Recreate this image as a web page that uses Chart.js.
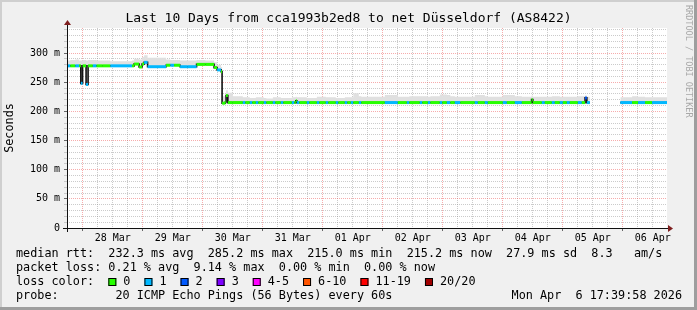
<!DOCTYPE html>
<html>
<head>
<meta charset="utf-8">
<script src="https://cdn.jsdelivr.net/npm/chart.js@4.4.1/dist/chart.umd.min.js"></script>
<style>
html, body { margin: 0; padding: 0; background: #f0f0f0; }
</style>
</head>
<body>
<canvas id="smokeChart" width="697" height="310"></canvas>
<script>
// hours since 28 Mar 00:00, median rtt (ms), lost pings of 20, top of the smoke (ms)
var hours = [
  -6.33, -5.0, -3.0, -1.5, -0.8, -0.1, 1.3, 2.1, 4.0, 5.5, 8.0, 11.0,
  19.7, 20.5, 22.5, 23.7, 24.5, 25.9, 33.3, 35.0, 36.5, 38.9, 42.0, 45.5,
  49.0, 52.5, 53.7, 55.3, 55.7, 57.0, 57.3, 58.0,
  60.0, 64.0, 65.0, 66.8, 67.8, 69.2, 70.2, 72.4, 73.4, 76.0, 77.0, 79.2,
  80.2, 83.6, 84.6, 85.2, 85.6, 86.6, 89.6, 90.6, 93.6, 94.6, 97.2, 98.2,
  101.2, 102.2, 104.8, 105.8, 107.2, 108.2, 110.4, 111.4, 120.8, 126.0, 129.6, 130.6,
  134.8, 135.8, 138.0, 139.0, 142.8, 143.8, 145.6, 147.0, 148.8, 151.0, 156.8, 158.0,
  160.8, 162.0, 168.0, 169.6, 172.8, 175.6, 179.5, 180.0, 183.6, 184.8, 187.6, 188.8,
  190.8, 192.0, 193.6, 194.8, 198.0, 199.6, 200.9, 201.6, 202.8, 202.9,
  215.0, 219.7, 222.1, 224.9, 227.7, 233.67
];
var medianRtt = [
  278, 278, 278, 278, 248, 278, 246, 278, 278, 278, 278, 278,
  278, 281, 276, 281, 284, 276.5, 279, 279, 279, 276.5, 276.5, 280.5,
  280.5, 275, 271, 268, 214, 216, 227, 215,
  215, 215, 215, 215, 215, 215, 215, 215, 215, 215, 215, 215,
  215, 215, 215, 218, 215, 215, 215, 215, 215, 215, 215, 215,
  215, 215, 215, 215, 215, 215, 215, 215, 215, 215, 215, 215,
  215, 215, 215, 215, 215, 215, 215, 215, 215, 215, 215, 215,
  215, 215, 215, 215, 215, 215, 220, 215, 215, 215, 215, 215,
  215, 215, 215, 215, 215, 215, 223, 215, 215, null,
  215, 215, 215, 215, 215, 215
];
var lossCount = [
  1, 0, 1, 0, 1, 0, 1, 0, 1, 0, 0, 1,
  0, 0, 0, 0, 1, 1, 0, 1, 0, 1, 1, 0,
  0, 0, 1, 0, 0, 0, 0, 0,
  0, 1, 0, 1, 0, 1, 0, 1, 0, 1, 0, 1,
  0, 1, 0, 0, 1, 0, 1, 0, 1, 0, 1, 0,
  1, 0, 1, 0, 1, 0, 1, 0, 1, 0, 1, 0,
  1, 0, 1, 0, 1, 0, 1, 0, 1, 0, 1, 0,
  1, 0, 1, 0, 1, 0, 0, 0, 1, 0, 1, 0,
  1, 0, 1, 0, 1, 0, 2, 1, 0, 0,
  1, 0, 1, 0, 1, 1
];
var smokeTop = [
  287, 288, 289, 287, 287, 288, 287, 288, 288, 287, 287, 286,
  287, 290, 289, 293, 296, 292, 289, 288, 288, 287, 287, 288,
  287, 284, 280, 276, 226, 228, 236, 232,
  226, 224, 224, 223, 223, 224, 224, 223, 222, 224, 224, 223,
  223, 224, 224, 225, 224, 224, 223, 223, 225, 225, 224, 224,
  223, 223, 224, 224, 224, 231, 226, 225, 228, 225, 225, 226,
  226, 226, 225, 226, 229, 229, 228, 226, 225, 225, 228, 228,
  226, 225, 228, 228, 226, 225, 227, 225, 225, 225, 226, 226,
  225, 225, 225, 225, 226, 226, 227, 225, 224, null,
  224, 226, 225, 224, 224, 224
];

var dayLabels = ['28 Mar', '29 Mar', '30 Mar', '31 Mar', '01 Apr', '02 Apr', '03 Apr', '04 Apr', '05 Apr', '06 Apr'];
var lossLabels = ['0', '1', '2', '3', '4-5', '6-10', '11-19', '20/20'];
var lossColors = ['#26ff00', '#00b8ff', '#0059ff', '#7e00ff', '#ff00ff', '#ff5500', '#ff0000', '#a10000'];

var rttLine = 'median rtt:  232.3 ms avg  285.2 ms max  215.0 ms min  215.2 ms now  27.9 ms sd  8.3   am/s';
var lossLine = 'packet loss: 0.21 % avg  9.14 % max  0.00 % min  0.00 % now';
var probeLine = 'probe:        20 ICMP Echo Pings (56 Bytes) every 60s';
var stampLine = 'Mon Apr  6 17:39:58 2026';
var titleText = 'Last 10 Days from cca1993b2ed8 to net Düsseldorf (AS8422)';

var MONO = '"DejaVu Sans Mono", "Liberation Mono", monospace';
Chart.defaults.font.family = MONO;
Chart.defaults.color = '#000';

var medianPts = hours.map(function (h, i) { return { x: h, y: medianRtt[i] }; });
var smokePts = hours.map(function (h, i) { return { x: h, y: smokeTop[i] }; });

// horizontal pieces of the median, each coloured by its loss
var colorPts = [];
for (var i = 0; i < hours.length - 1; i++) {
    if (medianRtt[i] === null || medianRtt[i + 1] === null) continue;
    colorPts.push({ x: hours[i], y: medianRtt[i], loss: lossCount[i] });
    colorPts.push({ x: hours[i + 1], y: medianRtt[i], loss: lossCount[i] });
    colorPts.push({ x: hours[i + 1], y: null, loss: 0 });
}

var rrdFrame = {
    id: 'rrdFrame',
    beforeDraw: function (chart) {
        var c = chart.ctx, a = chart.chartArea, w = chart.width, h = chart.height;
        c.save();
        c.fillStyle = '#f0f0f0';
        c.fillRect(0, 0, w, h);
        c.fillStyle = '#cfcfcf';
        c.fillRect(0, 0, w, 2);
        c.fillRect(0, 0, 2, h);
        c.fillStyle = '#9e9e9e';
        c.fillRect(0, h - 3, w, 3);
        c.fillRect(w - 3, 0, 3, h);
        c.fillStyle = '#ffffff';
        c.fillRect(a.left, a.top, a.right - a.left, a.bottom - a.top);
        c.restore();
    },
    afterDraw: function (chart) {
        var c = chart.ctx, a = chart.chartArea;
        c.save();
        // axes with arrows
        c.strokeStyle = '#101010';
        c.lineWidth = 1;
        c.beginPath();
        c.moveTo(a.left - 4, a.bottom + 0.5);
        c.lineTo(a.right + 2, a.bottom + 0.5);
        c.moveTo(a.left + 0.5, a.bottom + 4);
        c.lineTo(a.left + 0.5, a.top - 3);
        c.stroke();
        c.fillStyle = '#7f1f1f';
        c.beginPath();
        c.moveTo(a.right + 1, a.bottom - 3);
        c.lineTo(a.right + 6, a.bottom + 0.5);
        c.lineTo(a.right + 1, a.bottom + 4);
        c.fill();
        c.beginPath();
        c.moveTo(a.left - 3, a.top - 3);
        c.lineTo(a.left + 0.5, a.top - 8);
        c.lineTo(a.left + 4, a.top - 3);
        c.fill();

        // title
        c.fillStyle = '#000';
        c.font = '13px ' + MONO;
        c.textAlign = 'center';
        c.textBaseline = 'middle';
        c.fillText(titleText, chart.width / 2, 19);

        // legend block
        c.font = '11.8px ' + MONO;
        c.textAlign = 'left';
        c.fillText(rttLine, 16, 254);
        c.fillText(lossLine, 16, 268);
        c.fillText('loss color:', 16, 282);
        var x = 16 + c.measureText('loss color:  ').width;
        lossLabels.forEach(function (lbl, k) {
            c.fillStyle = lossColors[k];
            c.fillRect(x, 278, 8, 8);
            c.strokeStyle = '#000';
            c.strokeRect(x + 0.5, 278.5, 7, 7);
            c.fillStyle = '#000';
            c.fillText(lbl, x + 15, 282);
            x += 15 + c.measureText(lbl).width + 14;
        });
        c.fillText(probeLine, 16, 296);
        c.textAlign = 'right';
        c.fillText(stampLine, 682, 296);

        // credit down the right edge
        c.translate(688, 5);
        c.rotate(Math.PI / 2);
        c.font = '8.5px ' + MONO;
        c.fillStyle = '#a8a8a8';
        c.textAlign = 'left';
        c.fillText('RRDTOOL / TOBI OETIKER', 0, 0);
        c.restore();
    }
};

var ctx = document.getElementById('smokeChart').getContext('2d');
var smokeChart = new Chart(ctx, {
    type: 'line',
    data: {
        datasets: [{
            label: 'median',
            data: colorPts,
            borderWidth: 3,
            borderCapStyle: 'butt',
            borderColor: lossColors[0],
            pointRadius: 0,
            fill: false,
            spanGaps: false,
            segment: {
                borderColor: function (sc) { return lossColors[colorPts[sc.p0DataIndex].loss]; }
            }
        }, {
            label: 'median step',
            data: medianPts,
            stepped: true,
            borderWidth: 1.6,
            borderColor: '#111',
            pointRadius: 0,
            fill: false,
            spanGaps: false
        }, {
            label: 'smoke',
            data: smokePts,
            stepped: true,
            borderWidth: 0,
            borderColor: 'rgba(0,0,0,0)',
            backgroundColor: '#e0e0e0',
            pointRadius: 0,
            fill: 1,
            spanGaps: false
        }]
    },
    options: {
        responsive: false,
        animation: false,
        devicePixelRatio: 1,
        layout: { padding: { left: 0, top: 28, right: 30, bottom: 0 } },
        plugins: {
            legend: { display: false },
            tooltip: { enabled: false },
            title: { display: false }
        },
        scales: {
            x: {
                type: 'linear',
                min: -6.333,
                max: 233.667,
                afterBuildTicks: function (scale) {
                    var t = [];
                    for (var h = -6; h <= 228; h += 6) t.push({ value: h });
                    scale.ticks = t;
                },
                afterFit: function (scale) { scale.height = 82; },
                border: { display: false, dash: [1, 1] },
                grid: {
                    lineWidth: 1,
                    tickLength: 3,
                    color: function (sc) {
                        return sc.tick && sc.tick.value % 24 === 0 ? 'rgba(235,70,70,0.45)' : 'rgba(140,140,140,0.45)';
                    },
                    tickColor: function (sc) {
                        return sc.tick && sc.tick.value % 24 === 0 ? '#666' : 'rgba(0,0,0,0)';
                    }
                },
                ticks: {
                    autoSkip: false,
                    maxRotation: 0,
                    minRotation: 0,
                    padding: 1,
                    font: { size: 10 },
                    color: '#000',
                    callback: function (v) {
                        return ((v % 24) + 24) % 24 === 12 ? dayLabels[(v - 12) / 24] : '';
                    }
                }
            },
            y: {
                type: 'linear',
                min: 0,
                max: 342.86,
                afterBuildTicks: function (scale) {
                    var t = [];
                    for (var v = 0; v <= 340; v += 10) t.push({ value: v });
                    scale.ticks = t;
                },
                afterFit: function (scale) { scale.width = 67; },
                border: { display: false, dash: [1, 1] },
                grid: {
                    lineWidth: 1,
                    tickLength: 3,
                    color: function (sc) {
                        return sc.tick && sc.tick.value % 50 === 0 ? 'rgba(235,70,70,0.45)' : 'rgba(140,140,140,0.45)';
                    },
                    tickColor: function (sc) {
                        return sc.tick && sc.tick.value % 50 === 0 ? '#666' : '#c8c8c8';
                    }
                },
                ticks: {
                    autoSkip: false,
                    padding: 4,
                    font: { size: 10 },
                    color: '#000',
                    callback: function (v) {
                        if (v % 50 !== 0) return '';
                        return v === 0 ? '0' : v + ' m';
                    }
                },
                title: {
                    display: true,
                    text: 'Seconds',
                    color: '#000',
                    font: { size: 11.8 },
                    padding: { top: 3, bottom: 0 }
                }
            }
        }
    },
    plugins: [rrdFrame]
});
</script>
</body>
</html>
